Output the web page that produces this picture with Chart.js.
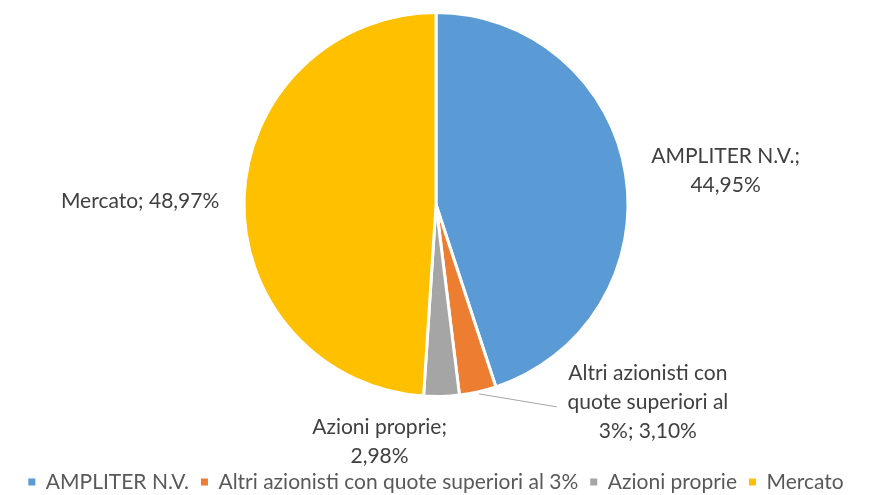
<!DOCTYPE html>
<html>
<head>
<meta charset="utf-8">
<script src="https://cdn.jsdelivr.net/npm/chart.js@4/dist/chart.umd.min.js"></script>
<style>
  html, body { margin: 0; padding: 0; background: #fff; }
  #wrap { width: 875px; height: 495px; }
</style>
</head>
<body>
<div id="wrap"><canvas id="pieChart"></canvas></div>
<script>
// Dati azionariato
const categories = ['AMPLITER N.V.', 'Altri azionisti con quote superiori al 3%', 'Azioni proprie', 'Mercato'];
const shares = [44.95, 3.10, 2.98, 48.97];
const sliceLabels = [
    ['AMPLITER N.V.;', '44,95%'],
    ['Altri azionisti con', 'quote superiori al', '3%; 3,10%'],
    ['Azioni proprie;', '2,98%'],
    ['Mercato; 48,97%']
];
const colors = ['#5B9BD5', '#ED7D31', '#A5A5A5', '#FFC000'];

// offset of each label from the slice edge (mid angle)
const labelOffsets = [
    { dx: 100, dy: -3 },
    { dx: 170, dy: 10, leader: { dx: 79, dy: 15 } },
    { dx: -62, dy: 45 },
    { dx: -104, dy: 3 }
];

const FONT = 'Lato, "Open Sans", sans-serif';

const sliceLabelPlugin = {
    id: 'sliceLabels',
    afterDatasetsDraw(chart) {
        const ctx = chart.ctx;
        const arcs = chart.getDatasetMeta(0).data;
        ctx.save();
        ctx.font = '21px ' + FONT;
        ctx.fillStyle = '#404040';
        ctx.textAlign = 'center';
        ctx.textBaseline = 'middle';
        arcs.forEach((arc, i) => {
            const p = arc.getProps(['x', 'y', 'startAngle', 'endAngle', 'outerRadius'], true);
            const mid = (p.startAngle + p.endAngle) / 2;
            const ex = p.x + Math.cos(mid) * p.outerRadius;
            const ey = p.y + Math.sin(mid) * p.outerRadius;
            const off = labelOffsets[i];
            if (off.leader) {
                ctx.strokeStyle = '#A6A6A6';
                ctx.lineWidth = 1;
                ctx.beginPath();
                ctx.moveTo(ex + 1, ey + 2);
                ctx.lineTo(ex + off.leader.dx, ey + off.leader.dy);
                ctx.stroke();
            }
            const lines = sliceLabels[i];
            const lh = 29;
            const cx = ex + off.dx;
            const cy = ey + off.dy - (lines.length - 1) * lh / 2;
            lines.forEach((t, k) => ctx.fillText(t, cx, cy + k * lh));
        });
        ctx.restore();
    }
};

document.addEventListener('DOMContentLoaded', function () {
    const ctx = document.getElementById('pieChart').getContext('2d');

    new Chart(ctx, {
        type: 'pie',
        data: {
            labels: categories,
            datasets: [{
                data: shares,
                backgroundColor: colors,
                borderColor: '#ffffff',
                borderWidth: 3
            }]
        },
        options: {
            responsive: true,
            maintainAspectRatio: false,
            animation: false,
            layout: { padding: { top: 11, left: 0, right: 3, bottom: -7.5 } },
            plugins: {
                tooltip: { enabled: false },
                // empty spacer so the legend sits at the bottom edge
                subtitle: {
                    display: true,
                    text: '',
                    position: 'bottom',
                    weight: 100,
                    font: { size: 10, lineHeight: 1 },
                    padding: { top: 51.5, bottom: 0 }
                },
                legend: {
                    position: 'bottom',
                    labels: {
                        boxWidth: 7,
                        boxHeight: 7,
                        padding: 12,
                        color: '#595959',
                        font: { family: FONT, size: 21, lineHeight: 1 },
                        generateLabels(chart) {
                            const items = Chart.overrides.pie.plugins.legend.labels.generateLabels(chart);
                            return items.map(it => Object.assign(it, { lineWidth: 0 }));
                        }
                    }
                }
            }
        },
        plugins: [sliceLabelPlugin]
    });
});
</script>
</body>
</html>
